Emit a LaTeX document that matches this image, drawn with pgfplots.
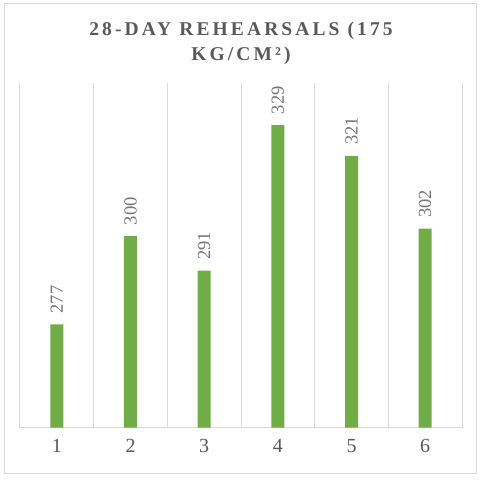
\documentclass[border=0pt]{standalone}
\usepackage{fontspec}
\setmainfont{Liberation Serif}
\usepackage{pgfplots}
\pgfplotsset{compat=1.18}
\definecolor{bargreen}{HTML}{70AD47}
\definecolor{gridgray}{HTML}{D9D9D9}
\definecolor{txtgray}{HTML}{595959}
\definecolor{lblgray}{HTML}{767676}
\newfontfamily\titlefont[LetterSpace=16]{Liberation Serif}
\begin{document}
\begin{tikzpicture}[x=1pt,y=1pt]
\path[use as bounding box] (0,0) rectangle (480,480);
\draw[gridgray, line width=1pt] (4.7,6.7) rectangle (476.7,476.7);
\node[anchor=base, text=txtgray, font=\titlefont\bfseries\fontsize{19.5}{23}\selectfont] at (241,444) {28-DAY REHEARSALS (175};
\node[anchor=base, text=txtgray, font=\titlefont\bfseries\fontsize{19.5}{23}\selectfont] at (241,419) {KG/CM²)};
\begin{axis}[
  at={(20pt,52.3pt)}, anchor=south west,
  scale only axis, width=442pt, height=344.7pt,
  xmin=0.5, xmax=6.5, ymin=250, ymax=340,
  axis y line=none, axis x line*=bottom,
  x axis line style={gridgray, line width=1pt, -},
  xtick={1,...,6}, minor xtick={0.5,1.5,...,6.5},
  xminorgrids=true, xmajorgrids=false,
  minor grid style={gridgray, line width=1pt},
  major tick length=0pt, minor tick length=0pt,
  /pgf/number format/assume math mode=true,
  xticklabel style={text=txtgray, font=\fontsize{20}{24}\selectfont, yshift=-8pt},
  ybar, bar width=13pt,
  nodes near coords,
  every node near coord/.append style={rotate=90, anchor=west, inner sep=0pt, outer sep=11pt, text=lblgray, font=\fontsize{18.5}{21}\selectfont},
  clip=false,
]
\addplot[fill=bargreen, draw=none] coordinates {(1,277) (2,300) (3,291) (4,329) (5,321) (6,302)};
\end{axis}
\end{tikzpicture}
\end{document}
